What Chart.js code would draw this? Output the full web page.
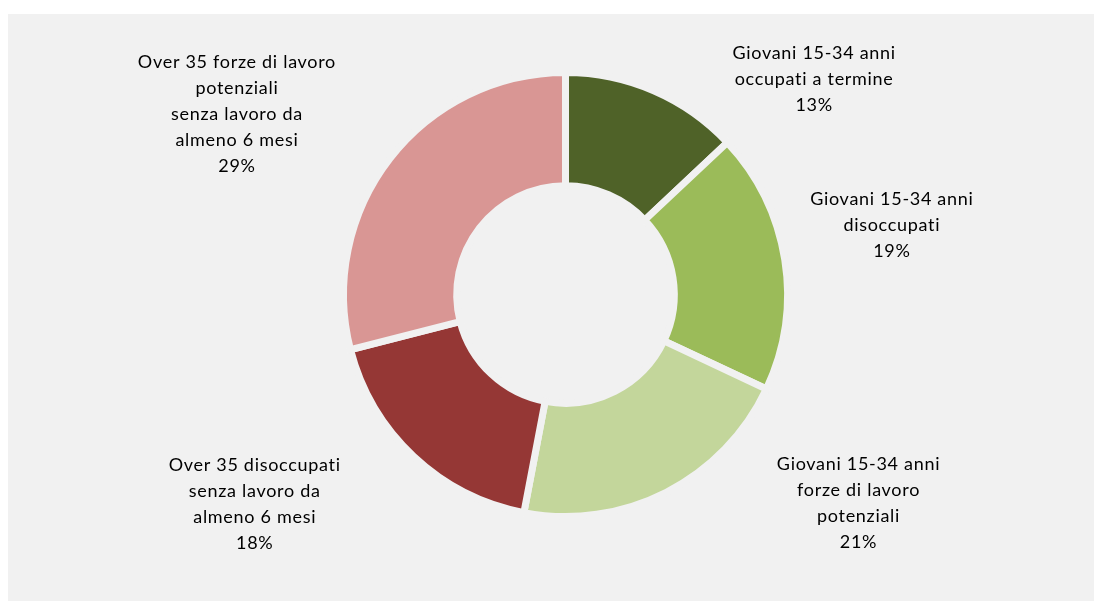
<!DOCTYPE html>
<html>
<head>
<meta charset="utf-8">
<script src="https://cdn.jsdelivr.net/npm/chart.js@4.4.1/dist/chart.umd.min.js"></script>
<style>
  html, body { margin: 0; padding: 0; background: #ffffff; }
  #panel {
    position: absolute; left: 8px; top: 14px;
    width: 1086px; height: 587px;
    background: #f1f1f1;
  }
</style>
</head>
<body>
<div id="panel"><canvas id="donut"></canvas></div>
<script>
// Data
const categories = [
    ['Giovani 15-34 anni', 'occupati a termine'],
    ['Giovani 15-34 anni', 'disoccupati'],
    ['Giovani 15-34 anni', 'forze di lavoro', 'potenziali'],
    ['Over 35 disoccupati', 'senza lavoro da', 'almeno 6 mesi'],
    ['Over 35 forze di lavoro', 'potenziali', 'senza lavoro da', 'almeno 6 mesi']
];
const shares = [13, 19, 21, 18, 29];
const sliceColors = ['#4f6228', '#9bbb59', '#c3d69b', '#953735', '#d99694'];

// label placement, relative to the ring centre in units of outer radius
const labelOffsets = [
    [1.12, -0.97],
    [1.47, -0.31],
    [1.32, 0.94],
    [-1.40, 0.945],
    [-1.48, -0.81]
];

const outsideLabels = {
    id: 'outsideLabels',
    afterDatasetsDraw(chart) {
        const ctx = chart.ctx;
        const arcs = chart.getDatasetMeta(0).data;
        ctx.save();
        ctx.font = '18px Lato, "Open Sans", sans-serif';
        ctx.letterSpacing = '0.7px';
        ctx.fillStyle = '#000000';
        ctx.textAlign = 'center';
        ctx.textBaseline = 'middle';
        const lineH = 26;
        arcs.forEach((arc, i) => {
            const lines = categories[i].concat([shares[i] + '%']);
            const cx = arc.x + labelOffsets[i][0] * arc.outerRadius;
            const cy = arc.y + labelOffsets[i][1] * arc.outerRadius;
            const top = cy - (lines.length - 1) * lineH / 2;
            lines.forEach((t, j) => ctx.fillText(t, cx, top + j * lineH));
        });
        ctx.restore();
    }
};

const ctx = document.getElementById('donut').getContext('2d');
const donut = new Chart(ctx, {
    type: 'doughnut',
    data: {
        labels: categories.map(c => c.join(' ')),
        datasets: [{
            data: shares,
            backgroundColor: sliceColors,
            borderColor: '#f1f1f1',
            borderWidth: 7,
            borderJoinStyle: 'miter',
            spacing: 0
        }]
    },
    options: {
        responsive: true,
        maintainAspectRatio: false,
        animation: false,
        cutout: '49%',
        layout: { padding: { top: 55, bottom: 81, left: 29, right: 0 } },
        plugins: {
            legend: { display: false },
            tooltip: { enabled: false }
        }
    },
    plugins: [outsideLabels]
});
</script>
</body>
</html>
